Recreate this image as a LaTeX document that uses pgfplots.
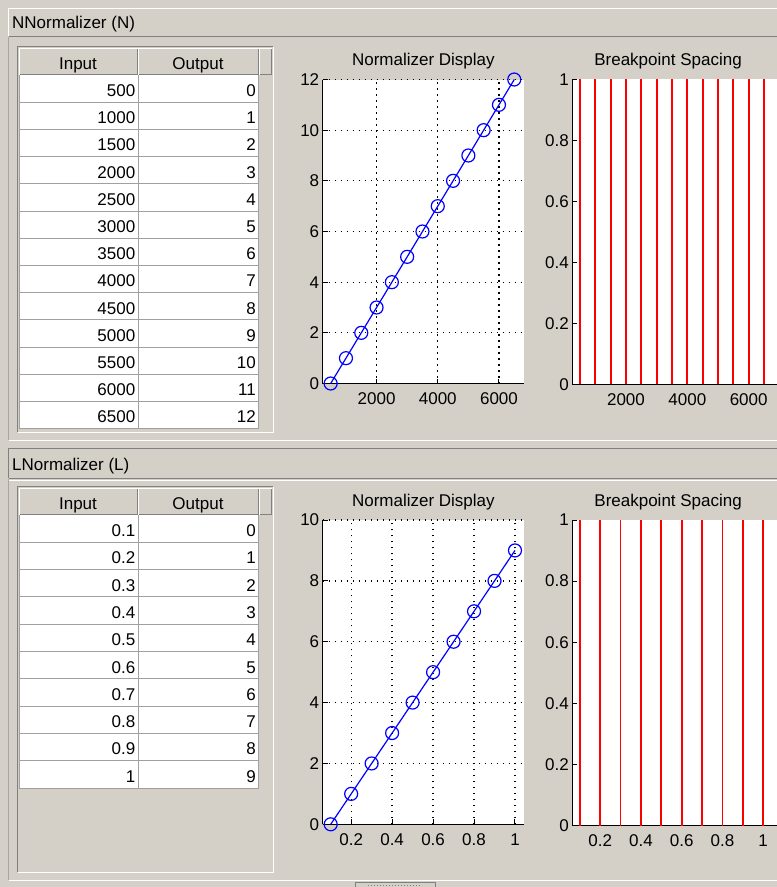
\documentclass[border=0pt]{standalone}
\usepackage{pgfplots}
\pgfplotsset{compat=1.18}
\usepackage{fontspec}
\setmainfont{Liberation Sans}
\definecolor{bg}{HTML}{D4D0C8}
\definecolor{dk}{HTML}{808080}
\definecolor{gridc}{HTML}{A0A0A0}
\definecolor{mblue}{RGB}{0,0,255}
\definecolor{mred}{RGB}{255,0,0}
\pgfplotsset{
 mat/.style={
  scale only axis, anchor=south west,
  axis background/.style={fill=white},
  axis x line*=bottom, axis y line*=left,
  axis line style={black, line width=1.5pt},
  tick style={black, line width=1pt},
  major tick length=5pt,
  tick align=inside,
  every tick label/.append style={font=\fontsize{17}{20}\selectfont},
  /pgf/number format/assume math mode=true,
  /pgf/number format/1000 sep={},
  xticklabel style={yshift=-6pt},
  scaled ticks=false,
  title style={font=\fontsize{17}{20}\selectfont, anchor=base, inner sep=0pt, yshift=8pt},
 },
 disp/.style={mat, grid=major,
  major grid style={black, line width=1.3pt, dash pattern=on 1.4pt off 4.6pt},
  clip=false},
 line/.style={mblue, line width=1.2pt, mark=o, mark size=6.5pt, mark options={line width=1.2pt, solid}},
 comb/.style={mred, line width=1.8pt, ycomb, no markers},
}
\begin{document}
\begin{tikzpicture}[font=\fontsize{17}{20}\selectfont]
\useasboundingbox (0pt,0pt) rectangle (777pt,-887pt);
\clip (0pt,0pt) rectangle (777pt,-887pt);
\begin{scope}[x=1pt,y=-1pt]
\fill[bg] (0,0) rectangle (777,887);
% ---- top strip and panel
\draw[white, line width=1pt] (8.5,36) -- (8.5,8.5) -- (777,8.5);
\draw[dk, line width=1pt] (8.5,36.5) -- (777,36.5);
\node[anchor=base west, inner sep=0pt] at (12,28) {NNormalizer (N)};
\draw[dk!70, line width=1pt] (8.5,37) -- (8.5,440);
\draw[white, line width=1pt] (8.5,440.5) -- (777,440.5);
% ---- bottom strip and panel
\draw[dk, line width=1pt] (8.5,478) -- (8.5,448.5) -- (777,448.5);
\draw[dk, line width=1pt] (8.5,478.5) -- (777,478.5);
\draw[white, line width=1pt] (9,480) -- (777,480);
\node[anchor=base west, inner sep=0pt] at (12,470) {LNormalizer (L)};
\draw[dk!70, line width=1pt] (8.5,479) -- (8.5,880);
\draw[white, line width=1pt] (8.5,880.5) -- (777,880.5);
\draw[dk, line width=0.8pt] (355,887) -- (355,882) -- (435,882) -- (435,887);
\draw[dk, line width=1pt, dotted] (368,885) -- (422,885);
% ---- top table
\draw[dk, line width=1pt] (17.5,432) -- (17.5,46.5) -- (273,46.5);
\draw[white, line width=1pt] (17.5,432.5) -- (273.5,432.5) -- (273.5,46.5);
\foreach \xa/\xb in {19/138, 138/259, 259/272} {
  \fill[bg] (\xa,48) rectangle (\xb,75);
  \draw[white, line width=1pt] (\xa+0.5,75) -- (\xa+0.5,48.5) -- (\xb,48.5);
  \draw[dk, line width=1pt] (\xa+0.5,74.5) -- (\xb-0.5,74.5) -- (\xb-0.5,48.5);
}
\node[anchor=base, inner sep=0pt] at (78,69) {Input};
\node[anchor=base, inner sep=0pt] at (198,69) {Output};
\fill[white] (19,75) rectangle (259,428.6);
\foreach \i/\a/\b in {0/500/0,1/1000/1,2/1500/2,3/2000/3,4/2500/4,5/3000/5,6/3500/6,7/4000/7,8/4500/8,9/5000/9,10/5500/10,11/6000/11,12/6500/12} {
  \pgfmathsetmacro\yt{75+27.2*\i}
  \draw[gridc, line width=1pt] (19,\yt+27.2) -- (259,\yt+27.2);
  \node[anchor=base east, inner sep=0pt] at (135.5,\yt+21.5) {\a};
  \node[anchor=base east, inner sep=0pt] at (256,\yt+21.5) {\b};
}
\draw[gridc, line width=1pt] (19.5,75) -- (19.5,428.6);
\draw[gridc, line width=1pt] (138,75) -- (138,428.6);
\draw[gridc, line width=1pt] (258.5,75) -- (258.5,428.6);
% ---- bottom table
\draw[dk, line width=1pt] (17.5,872) -- (17.5,486.5) -- (273,486.5);
\draw[white, line width=1pt] (17.5,872.5) -- (273.5,872.5) -- (273.5,486.5);
\foreach \xa/\xb in {19/138, 138/259, 259/272} {
  \fill[bg] (\xa,488) rectangle (\xb,515);
  \draw[white, line width=1pt] (\xa+0.5,515) -- (\xa+0.5,488.5) -- (\xb,488.5);
  \draw[dk, line width=1pt] (\xa+0.5,514.5) -- (\xb-0.5,514.5) -- (\xb-0.5,488.5);
}
\node[anchor=base, inner sep=0pt] at (78,509) {Input};
\node[anchor=base, inner sep=0pt] at (198,509) {Output};
\fill[white] (19,515) rectangle (259,788);
\foreach \i/\a/\b in {0/0.1/0,1/0.2/1,2/0.3/2,3/0.4/3,4/0.5/4,5/0.6/5,6/0.7/6,7/0.8/7,8/0.9/8,9/1/9} {
  \pgfmathsetmacro\yt{515+27.3*\i}
  \draw[gridc, line width=1pt] (19,\yt+27.3) -- (259,\yt+27.3);
  \node[anchor=base east, inner sep=0pt] at (135.5,\yt+21.5) {\a};
  \node[anchor=base east, inner sep=0pt] at (256,\yt+21.5) {\b};
}
\draw[gridc, line width=1pt] (19.5,515) -- (19.5,788);
\draw[gridc, line width=1pt] (138,515) -- (138,788);
\draw[gridc, line width=1pt] (258.5,515) -- (258.5,788);
\end{scope}
% ---- top normalizer display
\begin{axis}[disp, at={(322.7pt,-383.5pt)}, width=201.3pt, height=304pt,
  xmin=240, xmax=6818, ymin=0, ymax=12,
  xtick={2000,4000,6000}, xticklabels={2000,4000,6000},
  ytick={0,2,4,6,8,10,12},
  title={Normalizer Display}]
\addplot[line] coordinates {(500,0) (1000,1) (1500,2) (2000,3) (2500,4) (3000,5) (3500,6) (4000,7) (4500,8) (5000,9) (5500,10) (6000,11) (6500,12)};
\end{axis}
% ---- top breakpoint spacing
\begin{axis}[mat, at={(572.3pt,-384.3pt)}, width=205pt, height=305pt,
  xmin=250, xmax=6934, ymin=0, ymax=1,
  xtick={2000,4000,6000}, xticklabels={2000,4000,6000},
  ytick={0,0.2,0.4,0.6,0.8,1}, yticklabels={0,0.2,0.4,0.6,0.8,1},
  title={Breakpoint Spacing}, title style={at={(0.467,1)}}]
\addplot[comb] coordinates {(500,1) (1000,1) (1500,1) (2000,1) (2500,1) (3000,1) (3500,1) (4000,1) (4500,1) (5000,1) (5500,1) (6000,1) (6500,1)};
\end{axis}
% ---- bottom normalizer display
\begin{axis}[disp, at={(322.7pt,-824.3pt)}, width=201.3pt, height=304.3pt,
  xmin=0.061, xmax=1.044, ymin=0, ymax=10,
  xtick={0.2,0.4,0.6,0.8,1}, xticklabels={0.2,0.4,0.6,0.8,1},
  ytick={0,2,4,6,8,10},
  title={Normalizer Display}]
\addplot[line] coordinates {(0.1,0) (0.2,1) (0.3,2) (0.4,3) (0.5,4) (0.6,5) (0.7,6) (0.8,7) (0.9,8) (1,9)};
\end{axis}
% ---- bottom breakpoint spacing
\begin{axis}[mat, at={(572.4pt,-825.5pt)}, width=205pt, height=305.5pt,
  xmin=0.0637, xmax=1.07, ymin=0, ymax=1,
  xtick={0.2,0.4,0.6,0.8,1}, xticklabels={0.2,0.4,0.6,0.8,1},
  ytick={0,0.2,0.4,0.6,0.8,1}, yticklabels={0,0.2,0.4,0.6,0.8,1},
  title={Breakpoint Spacing}, title style={at={(0.467,1)}}]
\addplot[comb] coordinates {(0.1,1) (0.2,1) (0.3,1) (0.4,1) (0.5,1) (0.6,1) (0.7,1) (0.8,1) (0.9,1) (1,1)};
\end{axis}
\end{tikzpicture}
\end{document}
